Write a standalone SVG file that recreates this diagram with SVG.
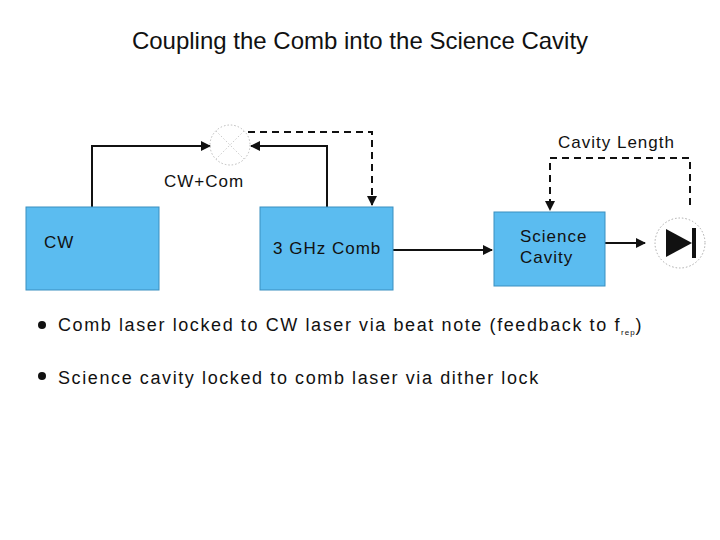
<svg xmlns="http://www.w3.org/2000/svg" width="720" height="540" viewBox="0 0 720 540">
<defs><marker id="a" markerWidth="10" markerHeight="10" refX="9" refY="5" orient="auto" markerUnits="userSpaceOnUse"><path d="M0,0 L10,5 L0,10 Z" fill="#111"/></marker></defs>
<style>
text{font-family:"Liberation Sans",Arial,sans-serif;fill:#111}
.box{fill:#5bbcf0;stroke:#3a8fc0;stroke-width:1}
.l{fill:none;stroke:#111;stroke-width:2;marker-end:url(#a)}
.d{stroke-dasharray:7,5}
.t{font-size:17px;letter-spacing:1px}
.b{font-size:18px;letter-spacing:1.6px}
</style>
<rect width="720" height="540" fill="#fff"/>
<text x="360" y="49" text-anchor="middle" font-size="24">Coupling the Comb into the Science Cavity</text>
<g id="connectors">
<path class="l" d="M92,207 V146 H210"/>
<path class="l" d="M327,207 V146 H251"/>
<path class="l d" d="M248,132 H372 V205"/>
<path class="l" d="M393,250 H492"/>
<path class="l d" d="M690,205 V158 H550 V210"/>
<path class="l" d="M605,243 H645"/>
</g>
<g id="mixer"><circle cx="230" cy="145" r="20" fill="none" stroke="#bbb" stroke-dasharray="1.5,2"/><path d="M216,131 L244,159 M244,131 L216,159" stroke="#ccc" stroke-dasharray="1.5,2"/></g>
<text class="t" x="164" y="187">CW+Com</text>
<text class="t" x="558" y="148">Cavity Length</text>
<g id="cw"><rect class="box" x="26" y="207" width="133" height="83"/><text class="t" x="44" y="248">CW</text></g>
<g id="comb"><rect class="box" x="260" y="207" width="133" height="83"/><text class="t" x="273" y="254">3 GHz Comb</text></g>
<g id="cavity"><rect class="box" x="494" y="212" width="111" height="74"/><text class="t" x="520" y="242">Science</text><text class="t" x="520" y="263">Cavity</text></g>
<g id="diode"><circle cx="680" cy="243" r="25" fill="none" stroke="#aaa" stroke-dasharray="1.5,2"/><path d="M666,229 L692,243 L666,257 Z" fill="#111"/><rect x="692" y="228" width="4" height="30" fill="#111"/></g>
<circle cx="42" cy="325" r="4" fill="#111"/>
<text class="b" x="58" y="331">Comb laser locked to CW laser via beat note (feedback to f<tspan font-size="8" dy="4" letter-spacing="1">rep</tspan><tspan dy="-4">)</tspan></text>
<circle cx="42" cy="376" r="4" fill="#111"/>
<text class="b" x="58" y="384">Science cavity locked to comb laser via dither lock</text>
</svg>
